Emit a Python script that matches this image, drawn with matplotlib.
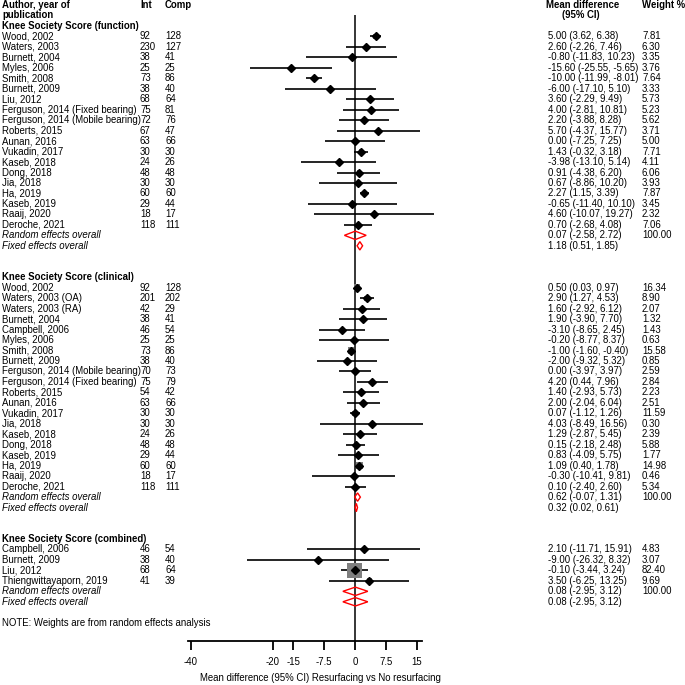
import matplotlib
matplotlib.use("Agg")
import matplotlib.pyplot as plt
from matplotlib.transforms import blended_transform_factory
import numpy as np

plt.rcParams["font.family"] = ["Liberation Sans", "DejaVu Sans"]
FS = 6.9

# ---- data: Knee Society Score (function)
fun_names = ["Wood, 2002", "Waters, 2003", "Burnett, 2004", "Myles, 2006", "Smith, 2008",
             "Burnett, 2009", "Liu, 2012", "Ferguson, 2014 (Fixed bearing)",
             "Ferguson, 2014 (Mobile bearing)", "Roberts, 2015", "Aunan, 2016", "Vukadin, 2017",
             "Kaseb, 2018", "Dong, 2018", "Jia, 2018", "Ha, 2019", "Kaseb, 2019", "Raaij, 2020",
             "Deroche, 2021"]
fun_int = [92, 230, 38, 25, 73, 38, 68, 75, 72, 67, 63, 30, 24, 48, 30, 60, 29, 18, 118]
fun_comp = [128, 127, 41, 25, 86, 40, 64, 81, 76, 47, 66, 30, 26, 48, 30, 60, 44, 17, 111]
fun_md = [5.00, 2.60, -0.80, -15.60, -10.00, -6.00, 3.60, 4.00, 2.20, 5.70, 0.00, 1.43,
          -3.98, 0.91, 0.67, 2.27, -0.65, 4.60, 0.70]
fun_lo = [3.62, -2.26, -11.83, -25.55, -11.99, -17.10, -2.29, -2.81, -3.88, -4.37, -7.25,
          -0.32, -13.10, -4.38, -8.86, 1.15, -11.40, -10.07, -2.68]
fun_hi = [6.38, 7.46, 10.23, -5.65, -8.01, 5.10, 9.49, 10.81, 8.28, 15.77, 7.25, 3.18,
          5.14, 6.20, 10.20, 3.39, 10.10, 19.27, 4.08]
fun_w = [7.81, 6.30, 3.35, 3.76, 7.64, 3.33, 5.73, 5.23, 5.62, 3.71, 5.00, 7.71, 4.11,
         6.06, 3.93, 7.87, 3.45, 2.32, 7.06]
fun_random = (0.07, -2.58, 2.72)
fun_fixed = (1.18, 0.51, 1.85)

# ---- data: Knee Society Score (clinical)
cli_names = ["Wood, 2002", "Waters, 2003 (OA)", "Waters, 2003 (RA)", "Burnett, 2004",
             "Campbell, 2006", "Myles, 2006", "Smith, 2008", "Burnett, 2009",
             "Ferguson, 2014 (Mobile bearing)", "Ferguson, 2014 (Fixed bearing)", "Roberts, 2015",
             "Aunan, 2016", "Vukadin, 2017", "Jia, 2018", "Kaseb, 2018", "Dong, 2018",
             "Kaseb, 2019", "Ha, 2019", "Raaij, 2020", "Deroche, 2021"]
cli_int = [92, 201, 42, 38, 46, 25, 73, 38, 70, 75, 54, 63, 30, 30, 24, 48, 29, 60, 18, 118]
cli_comp = [128, 202, 29, 41, 54, 25, 86, 40, 73, 79, 42, 66, 30, 30, 26, 48, 44, 60, 17, 111]
cli_md = [0.50, 2.90, 1.60, 1.90, -3.10, -0.20, -1.00, -2.00, 0.00, 4.20, 1.40, 2.00, 0.07,
          4.03, 1.29, 0.15, 0.83, 1.09, -0.30, 0.10]
cli_lo = [0.03, 1.27, -2.92, -3.90, -8.65, -8.77, -1.60, -9.32, -3.97, 0.44, -2.93, -2.04,
          -1.12, -8.49, -2.87, -2.18, -4.09, 0.40, -10.41, -2.40]
cli_hi = [0.97, 4.53, 6.12, 7.70, 2.45, 8.37, -0.40, 5.32, 3.97, 7.96, 5.73, 6.04, 1.26,
          16.56, 5.45, 2.48, 5.75, 1.78, 9.81, 2.60]
cli_w = [16.34, 8.90, 2.07, 1.32, 1.43, 0.63, 15.58, 0.85, 2.59, 2.84, 2.23, 2.51, 11.59,
         0.30, 2.39, 5.88, 1.77, 14.98, 0.46, 5.34]
cli_random = (0.62, -0.07, 1.31)
cli_fixed = (0.32, 0.02, 0.61)

# ---- data: Knee Society Score (combined)
com_names = ["Campbell, 2006", "Burnett, 2009", "Liu, 2012", "Thiengwittayaporn, 2019"]
com_int = [46, 38, 68, 41]
com_comp = [54, 40, 64, 39]
com_md = [2.10, -9.00, -0.10, 3.50]
com_lo = [-11.71, -26.32, -3.44, -6.25]
com_hi = [15.91, 8.32, 3.24, 13.25]
com_w = [4.83, 3.07, 82.40, 9.69]
com_random = (0.08, -2.95, 3.12)
com_fixed = (0.08, -2.95, 3.12)

xticks = [-40, -20, -15, -7.5, 0, 7.5, 15]
xtick_labels = ["-40", "-20", "-15", "-7.5", "0", "7.5", "15"]

sections = [
    ("Knee Society Score (function)", fun_names, fun_int, fun_comp, fun_md, fun_lo, fun_hi,
     fun_w, fun_random, fun_fixed),
    ("Knee Society Score (clinical)", cli_names, cli_int, cli_comp, cli_md, cli_lo, cli_hi,
     cli_w, cli_random, cli_fixed),
    ("Knee Society Score (combined)", com_names, com_int, com_comp, com_md, com_lo, com_hi,
     com_w, com_random, com_fixed),
]

# ---- layout (pixels of a 685x685 canvas)
W = H = 685
ROW0, ROWH = 5.0, 10.47          # pixel y of row 0 and row pitch
AX_L, AX_R, AX_B = 188, 422, 641
X0, XS = 355, 4.11               # pixel of x=0 and pixels per unit

fig = plt.figure(figsize=(W / 100, H / 100), dpi=100)
ax = fig.add_axes([AX_L / W, 1 - AX_B / H, (AX_R - AX_L) / W, AX_B / H])
ax.set_xlim((AX_L - X0) / XS, (AX_R - X0) / XS)
ax.set_ylim((AX_B - ROW0) / ROWH, -ROW0 / ROWH)
for s in ("top", "right", "left"):
    ax.spines[s].set_visible(False)
ax.spines["bottom"].set_linewidth(1.3)
ax.set_yticks([])
ax.set_xticks(xticks)
ax.set_xticklabels(xtick_labels, fontsize=FS)
ax.tick_params(axis="x", direction="out", length=6.5, width=1.3, pad=5)
ax.set_xlabel("Mean difference (95% CI) Resurfacing vs No resurfacing", fontsize=FS)
ax.xaxis.set_label_coords(0.565, -0.05)

tr = blended_transform_factory(fig.transFigure, ax.transData)


def put(px, row, s, **kw):
    kw.setdefault("ha", "left")
    ax.text(px / W, row, s, transform=tr, va="center", fontsize=FS, clip_on=False, **kw)


# header
put(2, 0, "Author, year of", weight="bold")
put(2, 1, "publication", weight="bold")
put(140, 0, "Int", weight="bold")
put(165, 0, "Comp", weight="bold")
put(583, 0, "Mean difference", weight="bold", ha="center")
put(581, 1, "(95% CI)", weight="bold", ha="center")
put(642, 0, "Weight %", weight="bold")

ax.vlines(0, 0.95, (AX_B - ROW0) / ROWH, color="black", lw=1.1, zorder=2)

row = 2
for title, names, n_int, n_comp, md, lo, hi, w, rnd, fix in sections:
    put(2, row, title, weight="bold")
    row += 1
    rows = np.arange(row, row + len(names))
    ax.hlines(rows, lo, hi, color="black", lw=1.2, clip_on=False, zorder=3)
    side = 1.65 * np.sqrt(np.array(w)) * 0.72     # square side in points
    ax.scatter(md, rows, s=side ** 2, marker="s", color="#7f7f7f", lw=0, zorder=4,
               clip_on=False)
    ax.plot(md, rows, "D", color="black", ms=4.2, zorder=5, clip_on=False)
    for i, r in enumerate(rows):
        put(2, r, names[i])
        put(140, r, str(n_int[i]))
        put(165, r, str(n_comp[i]))
        put(548, r, f"{md[i]:.2f} ({lo[i]:.2f}, {hi[i]:.2f})")
        put(642, r, f"{w[i]:.2f}")
    row += len(names)
    for label, (m, l, h), wt in (("Random effects overall", rnd, "100.00"),
                                 ("Fixed effects overall", fix, None)):
        ax.fill([l, m, h, m], [row, row - 0.4, row, row + 0.4], fill=False,
                edgecolor="red", lw=1.0, zorder=6)
        put(2, row, label, style="italic")
        put(548, row, f"{m:.2f} ({l:.2f}, {h:.2f})")
        if wt:
            put(642, row, wt)
        row += 1
    row += 2

put(2, row - 1, "NOTE: Weights are from random effects analysis")

fig.savefig("out.png", dpi=100)
